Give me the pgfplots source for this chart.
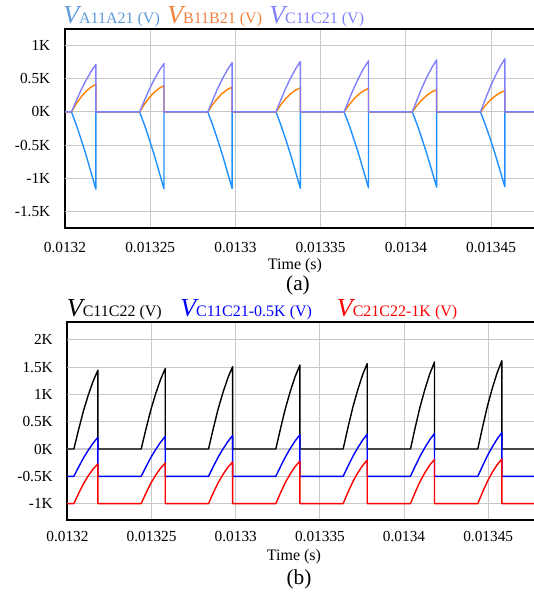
\documentclass[border=0pt]{standalone}
\usepackage{fontspec}
\setmainfont{Liberation Serif}
\usepackage{pgfplots}
\usepackage{pgfplotstable}
\pgfplotsset{compat=1.18}

% line colours
\definecolor{cA}{RGB}{30,144,255}
\definecolor{cAt}{RGB}{91,155,220}
\definecolor{cB}{RGB}{255,128,0}
\definecolor{cBt}{RGB}{240,128,60}
\definecolor{cC}{RGB}{128,128,255}
\definecolor{cblue}{RGB}{0,0,255}
\definecolor{cred}{RGB}{255,0,0}
\definecolor{cgrid}{RGB}{200,200,200}

% t (s), VA11A21, VB11B21, VC11C21, VC11C22, VC11C21-500, VC21C22-1000  (V)
\pgfplotstableread{
t A B C K U R
0.0132 0 0 0 0 -500 -1000
0.0132038 0 0 0 0 -500 -1000
0.01320666 -198 125 172 361 -328 -811
0.01320952 -419 228 336 700 -164 -636
0.01321238 -652 311 479 989 -21 -490
0.01321524 -909 374 608 1241 108 -367
0.0132181 -1165 415 715 1443 215 -272
0.0132181 0 0 0 0 -500 -1000
0.0132438 0 0 0 0 -500 -1000
0.01324666 -197 119 175 368 -325 -807
0.01324952 -418 217 343 715 -157 -628
0.01325238 -650 296 489 1009 -11 -480
0.01325524 -905 356 621 1267 121 -354
0.0132581 -1160 395 730 1473 230 -257
0.0132581 0 0 0 0 -500 -1000
0.0132838 0 0 0 0 -500 -1000
0.01328666 -196 113 179 377 -321 -802
0.01328952 -416 206 350 731 -150 -619
0.01329238 -647 281 499 1032 -1 -467
0.01329524 -901 338 633 1296 133 -337
0.0132981 -1155 375 745 1507 245 -238
0.0132981 0 0 0 0 -500 -1000
0.0133238 0 0 0 0 -500 -1000
0.01332666 -196 109 182 384 -318 -798
0.01332952 -414 200 357 746 -143 -611
0.01333238 -644 273 509 1053 9 -456
0.01333524 -897 328 646 1322 146 -324
0.0133381 -1150 364 760 1537 260 -223
0.0133381 0 0 0 0 -500 -1000
0.0133638 0 0 0 0 -500 -1000
0.01336666 -195 106 185 392 -315 -793
0.01336952 -412 195 362 760 -138 -602
0.01337238 -641 266 516 1073 16 -443
0.01337524 -893 319 655 1347 155 -308
0.0133781 -1145 354 770 1565 270 -205
0.0133781 0 0 0 0 -500 -1000
0.0134038 0 0 0 0 -500 -1000
0.01340666 -193 101 188 399 -312 -789
0.01340952 -409 184 369 774 -131 -595
0.01341238 -636 251 526 1093 26 -433
0.01341524 -885 302 667 1372 167 -295
0.0134181 -1135 335 785 1595 285 -190
0.0134181 0 0 0 0 -500 -1000
0.0134438 0 0 0 0 -500 -1000
0.01344666 -192 96 192 404 -308 -788
0.01344952 -406 176 376 784 -124 -592
0.01345238 -632 240 536 1107 36 -429
0.01345524 -880 288 680 1389 180 -291
0.0134581 -1128 320 800 1615 300 -185
0.0134581 0 0 0 0 -500 -1000
0.01348 0 0 0 0 -500 -1000
}\waves

\tikzset{gridline/.style={cgrid, line width=0.8pt}}

\pgfplotsset{
  scopeplot/.style={
    scale only axis,
    anchor=north west,
    scaled x ticks=false, scaled y ticks=false,
    xtick={0.0132,0.01325,0.0133,0.01335,0.0134,0.01345},
    xticklabels={0.0132,0.01325,0.0133,0.01335,0.0134,0.01345},
    major tick length=0pt,
    xmajorgrids=true, ymajorgrids=true,
    major grid style={gridline},
    axis line style={line width=1.5pt},
    ticklabel style={font=\fontsize{11.5}{13}\selectfont},
    yticklabel style={xshift=-7.5pt},
    every axis plot/.append style={line width=1.05pt, line join=round},
  }
}

\begin{document}
\begin{tikzpicture}
% (a) phase voltages
\begin{axis}[scopeplot,
  at={(48.75pt,-21.75pt)}, width=352.5pt, height=149.25pt,
  xmin=0.0132, xmax=0.0134758, ymin=-1750, ymax=1250,
  ytick={-1500,-1000,-500,0,500,1000},
  yticklabels={-1.5K,-1K,-0.5K,0K,0.5K,1K},
  xticklabel style={yshift=-7pt}]
\pgfplotsinvokeforeach{-1500,-1000,-500,0,500,1000}{
  \draw[gridline] (axis cs:0.0132,#1) -- (axis cs:0.0134758,#1);}
\addplot[cA] table[x=t,y=A]{\waves};
\addplot[cB] table[x=t,y=B]{\waves};
\addplot[cC] table[x=t,y=C]{\waves};
\end{axis}

% (b) capacitor voltages
\begin{axis}[scopeplot,
  at={(50.6pt,-241.7pt)}, width=350.65pt, height=148.3pt,
  xmin=0.0132, xmax=0.0134778, ymin=-1300, ymax=2320,
  ytick={-1000,-500,0,500,1000,1500,2000},
  yticklabels={-1K,-0.5K,0K,0.5K,1K,1.5K,2K},
  xticklabel style={yshift=-5pt}]
\pgfplotsinvokeforeach{-1000,-500,0,500,1000,1500,2000}{
  \draw[gridline] (axis cs:0.0132,#1) -- (axis cs:0.0134778,#1);}
\addplot[black] table[x=t,y=K]{\waves};
\addplot[cblue] table[x=t,y=U]{\waves};
\addplot[cred] table[x=t,y=R]{\waves};
\end{axis}

% series titles
\newcommand{\vlab}[1]{{\fontsize{19.5}{20}\selectfont\itshape V}{\fontsize{12}{13}\selectfont #1}}
\node[anchor=base west, inner sep=0, text=cAt] at (47.25pt,-18pt) {\vlab{A11A21 (V)}};
\node[anchor=base west, inner sep=0, text=cBt] at (125.25pt,-18pt) {\vlab{B11B21 (V)}};
\node[anchor=base west, inner sep=0, text=cC] at (201.75pt,-18pt) {\vlab{C11C21 (V)}};

\node[anchor=base west, inner sep=0, text=black] at (50pt,-237.5pt) {\vlab{C11C22 (V)}};
\node[anchor=base west, inner sep=0, text=cblue] at (135pt,-237.5pt) {\vlab{C11C21-0.5K (V)}};
\node[anchor=base west, inner sep=0, text=cred] at (252.5pt,-237.5pt) {\vlab{C21C22-1K (V)}};

% axis titles and captions
\node[anchor=base, inner sep=0, font=\fontsize{12}{14}\selectfont] at (221.25pt,-201.75pt) {Time (s)};
\node[anchor=base, inner sep=0, font=\fontsize{12}{14}\selectfont] at (220.5pt,-420pt) {Time (s)};
\node[anchor=base, inner sep=0, font=\fontsize{16}{18}\selectfont] at (223.5pt,-217.5pt) {(a)};
\node[anchor=base, inner sep=0, font=\fontsize{16}{18}\selectfont] at (224.25pt,-438pt) {(b)};

\pgfresetboundingbox
\useasboundingbox (0pt,0pt) rectangle (399.75pt,-446.25pt);
\end{tikzpicture}
\end{document}
